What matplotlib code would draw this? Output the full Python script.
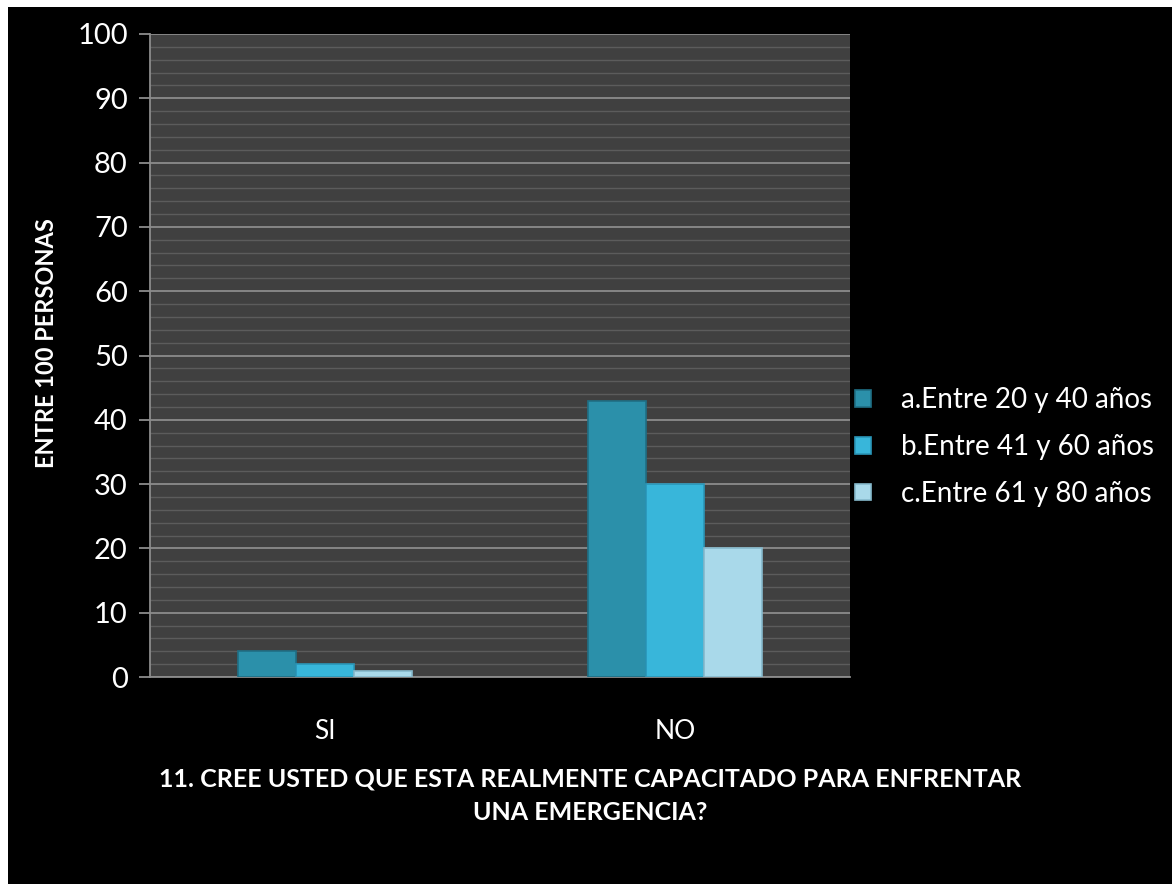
import matplotlib
matplotlib.use("Agg")
import matplotlib.pyplot as plt
import numpy as np
from matplotlib.ticker import MultipleLocator

categories = ["SI", "NO"]
series_names = ["a.Entre 20 y 40 años", "b.Entre 41 y 60 años", "c.Entre 61 y 80 años"]
values_a = [4, 43]
values_b = [2, 30]
values_c = [1, 20]
series_values = [values_a, values_b, values_c]
colors = ["#2b90aa", "#38b6da", "#a9d9ea"]
edge_colors = ["#1f6f85", "#2a96b8", "#86b9cc"]

plt.rcParams['font.family'] = ['Lato', 'DejaVu Sans']

W, H = 1172, 884
fig = plt.figure(figsize=(W/100, H/100), dpi=100, facecolor="white")
fig.patches.append(plt.Rectangle((8/W, 0), 1, 1 - 7/H, transform=fig.transFigure,
                                 facecolor="black", edgecolor="none", zorder=-10))

ax = fig.add_axes([150/W, 1 - 677/H, 700/W, (677-34)/H])
ax.set_facecolor("#404040")

x = np.arange(len(categories))
width = 58/350
for i, (vals, name) in enumerate(zip(series_values, series_names)):
    ax.bar(x + (i - 1) * width, vals, width, color=colors[i], edgecolor=edge_colors[i],
           linewidth=1.2, label=name, zorder=3)

ax.set_xlim(-0.5, 1.5)
ax.set_ylim(0, 100)
ax.yaxis.set_major_locator(MultipleLocator(10))
ax.yaxis.set_minor_locator(MultipleLocator(2))
ax.grid(which="major", axis="y", color="#8c8c8c", linewidth=1.3, zorder=1)
ax.grid(which="minor", axis="y", color="#5c5c5c", linewidth=1.0, zorder=1)
ax.set_xticks(x)
ax.set_xticklabels(categories)

for s in ["top", "right"]:
    ax.spines[s].set_visible(False)
for s in ["left", "bottom"]:
    ax.spines[s].set_color("#8c8c8c")
    ax.spines[s].set_linewidth(1.3)

ax.tick_params(axis="y", which="major", colors="#8c8c8c", labelcolor="white", labelsize=21,
               length=8, width=1.3, pad=8)
ax.tick_params(axis="y", which="minor", length=0)
ax.tick_params(axis="x", which="both", length=0, labelcolor="white", labelsize=19, pad=30)

fig.text(47/W, 1 - 343/H, "ENTRE 100 PERSONAS", color="white", fontsize=17, fontweight="bold",
         rotation=90, ha="center", va="center")
fig.text(590/W, 1 - 796/H,
         "11. CREE USTED QUE ESTA REALMENTE CAPACITADO PARA ENFRENTAR\nUNA EMERGENCIA?",
         color="white", fontsize=18, fontweight="bold", ha="center", va="center",
         multialignment="center", linespacing=1.55)

leg = fig.legend(loc="center left", bbox_to_anchor=(847/W, 1 - 447/H), frameon=False, fontsize=20,
                 labelcolor="white", handlelength=0.55, handleheight=0.55, handletextpad=1.1,
                 labelspacing=0.75, borderaxespad=0, borderpad=0.3)

fig.savefig("out.png", dpi=100, facecolor="white")
